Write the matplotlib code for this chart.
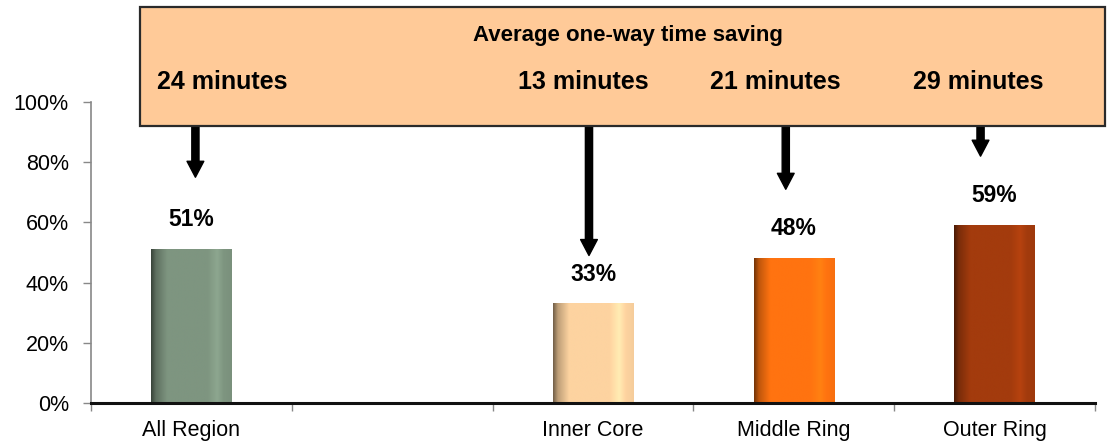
import matplotlib
matplotlib.use('Agg')
import matplotlib.pyplot as plt
import numpy as np
from matplotlib.patches import Rectangle
from matplotlib.colors import to_rgb
from matplotlib.transforms import blended_transform_factory
from matplotlib.ticker import FixedLocator

# ---------------- data ----------------
categories = ['All Region', '', 'Inner Core', 'Middle Ring', 'Outer Ring']
shares = [0.51, None, 0.33, 0.48, 0.59]
share_labels = ['51%', None, '33%', '48%', '59%']
minutes = [24, None, 13, 21, 29]
bar_colors = ['#7E9580', None, '#FDD3A0', '#FF7310', '#A33B0D']
yticks = [0.0, 0.2, 0.4, 0.6, 0.8, 1.0]
ytick_labels = ['0%', '20%', '40%', '60%', '80%', '100%']
box_title = 'Average one-way time saving'

# ---------------- layout ----------------
W, H = 1107, 444
fig = plt.figure(figsize=(W / 100, H / 100), dpi=100)
ax = fig.add_axes([91 / W, 41 / H, 1004 / W, 301 / H])

REG = ['Liberation Sans', 'DejaVu Sans']
NARROW = ['Liberation Sans Narrow', 'Liberation Sans', 'DejaVu Sans']

# arrow layout: (x offset from category centre, tip height in axis units)
arrow_layout = [(0.02, 0.75), None, (-0.02, 0.49), (-0.04, 0.71), (-0.07, 0.82)]
# minutes label x positions in figure pixels
minutes_x_px = [222, None, 583, 775, 978]

x = np.arange(len(categories))
bars = []
for i, (v, c) in enumerate(zip(shares, bar_colors)):
    if v is None:
        continue
    b = ax.bar(x[i], v, width=0.4, color=c, edgecolor='none', zorder=2)[0]
    bars.append((b, c))

# cylinder-like shading
for b, c in bars:
    base = np.array(to_rgb(c))
    pos = np.linspace(0, 1, 200)
    fac = np.interp(pos, [0, 0.06, 0.2, 0.7, 0.82, 0.9, 1.0],
                    [0.45, 0.75, 1.0, 1.0, 1.12, 1.0, 0.97])
    grad = np.clip(base[None, :] * fac[:, None], 0, 1)[None, :, :]
    x0 = b.get_x()
    ax.imshow(grad, extent=(x0, x0 + b.get_width(), 0, b.get_height()),
              aspect='auto', zorder=3, clip_path=b, clip_on=True,
              interpolation='bilinear')

# value labels
for i, (v, lab) in enumerate(zip(shares, share_labels)):
    if v is None:
        continue
    ax.annotate(lab, xy=(x[i], v), xytext=(0, 13), textcoords='offset points',
                ha='center', va='bottom', fontsize=16.5, fontweight='bold',
                family=REG, zorder=5)

ax.set_xlim(-0.5, len(categories) - 0.5)
ax.set_ylim(0, 1)

ax.set_yticks(yticks)
ax.set_yticklabels(ytick_labels, fontsize=15.5, family=REG)
ax.set_xticks(x)
ax.set_xticklabels(categories, fontsize=15.5, family=REG)
ax.xaxis.set_minor_locator(FixedLocator(np.arange(-0.5, len(categories), 1.0)))
ax.tick_params(axis='x', which='major', length=0, pad=12)
ax.tick_params(axis='x', which='minor', length=6, color='#888888', width=1)
ax.tick_params(axis='y', length=6, color='#888888', width=1, pad=10)

for s in ['top', 'right']:
    ax.spines[s].set_visible(False)
ax.spines['left'].set_color('#888888')
ax.spines['left'].set_linewidth(1.2)
ax.spines['bottom'].set_color('#111111')
ax.spines['bottom'].set_linewidth(2.2)
ax.spines['bottom'].set_zorder(6)

# annotation box
box_x0, box_x1 = 140 / W, 1105 / W
box_y0, box_y1 = 1 - 126 / H, 1 - 7 / H
rect = Rectangle((box_x0, box_y0), box_x1 - box_x0, box_y1 - box_y0,
                 transform=fig.transFigure, facecolor='#FFCA98',
                 edgecolor='#2a2a2a', linewidth=1.6, zorder=10)
fig.patches.append(rect)

fig.text(628 / W, 1 - 35 / H, box_title, ha='center', va='center',
         fontsize=16, fontweight='bold', family=NARROW, zorder=11)
for m, px in zip(minutes, minutes_x_px):
    if m is None:
        continue
    fig.text(px / W, 1 - 82 / H, f'{m} minutes', ha='center', va='center',
             fontsize=18, fontweight='bold', family=NARROW, zorder=11)

# arrows from the box down to the bars
blend = blended_transform_factory(ax.transData, fig.transFigure)
for i, lay in enumerate(arrow_layout):
    if lay is None:
        continue
    dx, tip = lay
    ax.annotate('', xy=(x[i] + dx, tip), xycoords='data',
                xytext=(x[i] + dx, box_y0), textcoords=blend,
                arrowprops=dict(arrowstyle='simple,head_length=1.0,head_width=1.05,tail_width=0.45',
                                mutation_scale=11.5, color='black',
                                shrinkA=0, shrinkB=0),
                annotation_clip=False, zorder=9)

fig.savefig('out.png', dpi=100)
